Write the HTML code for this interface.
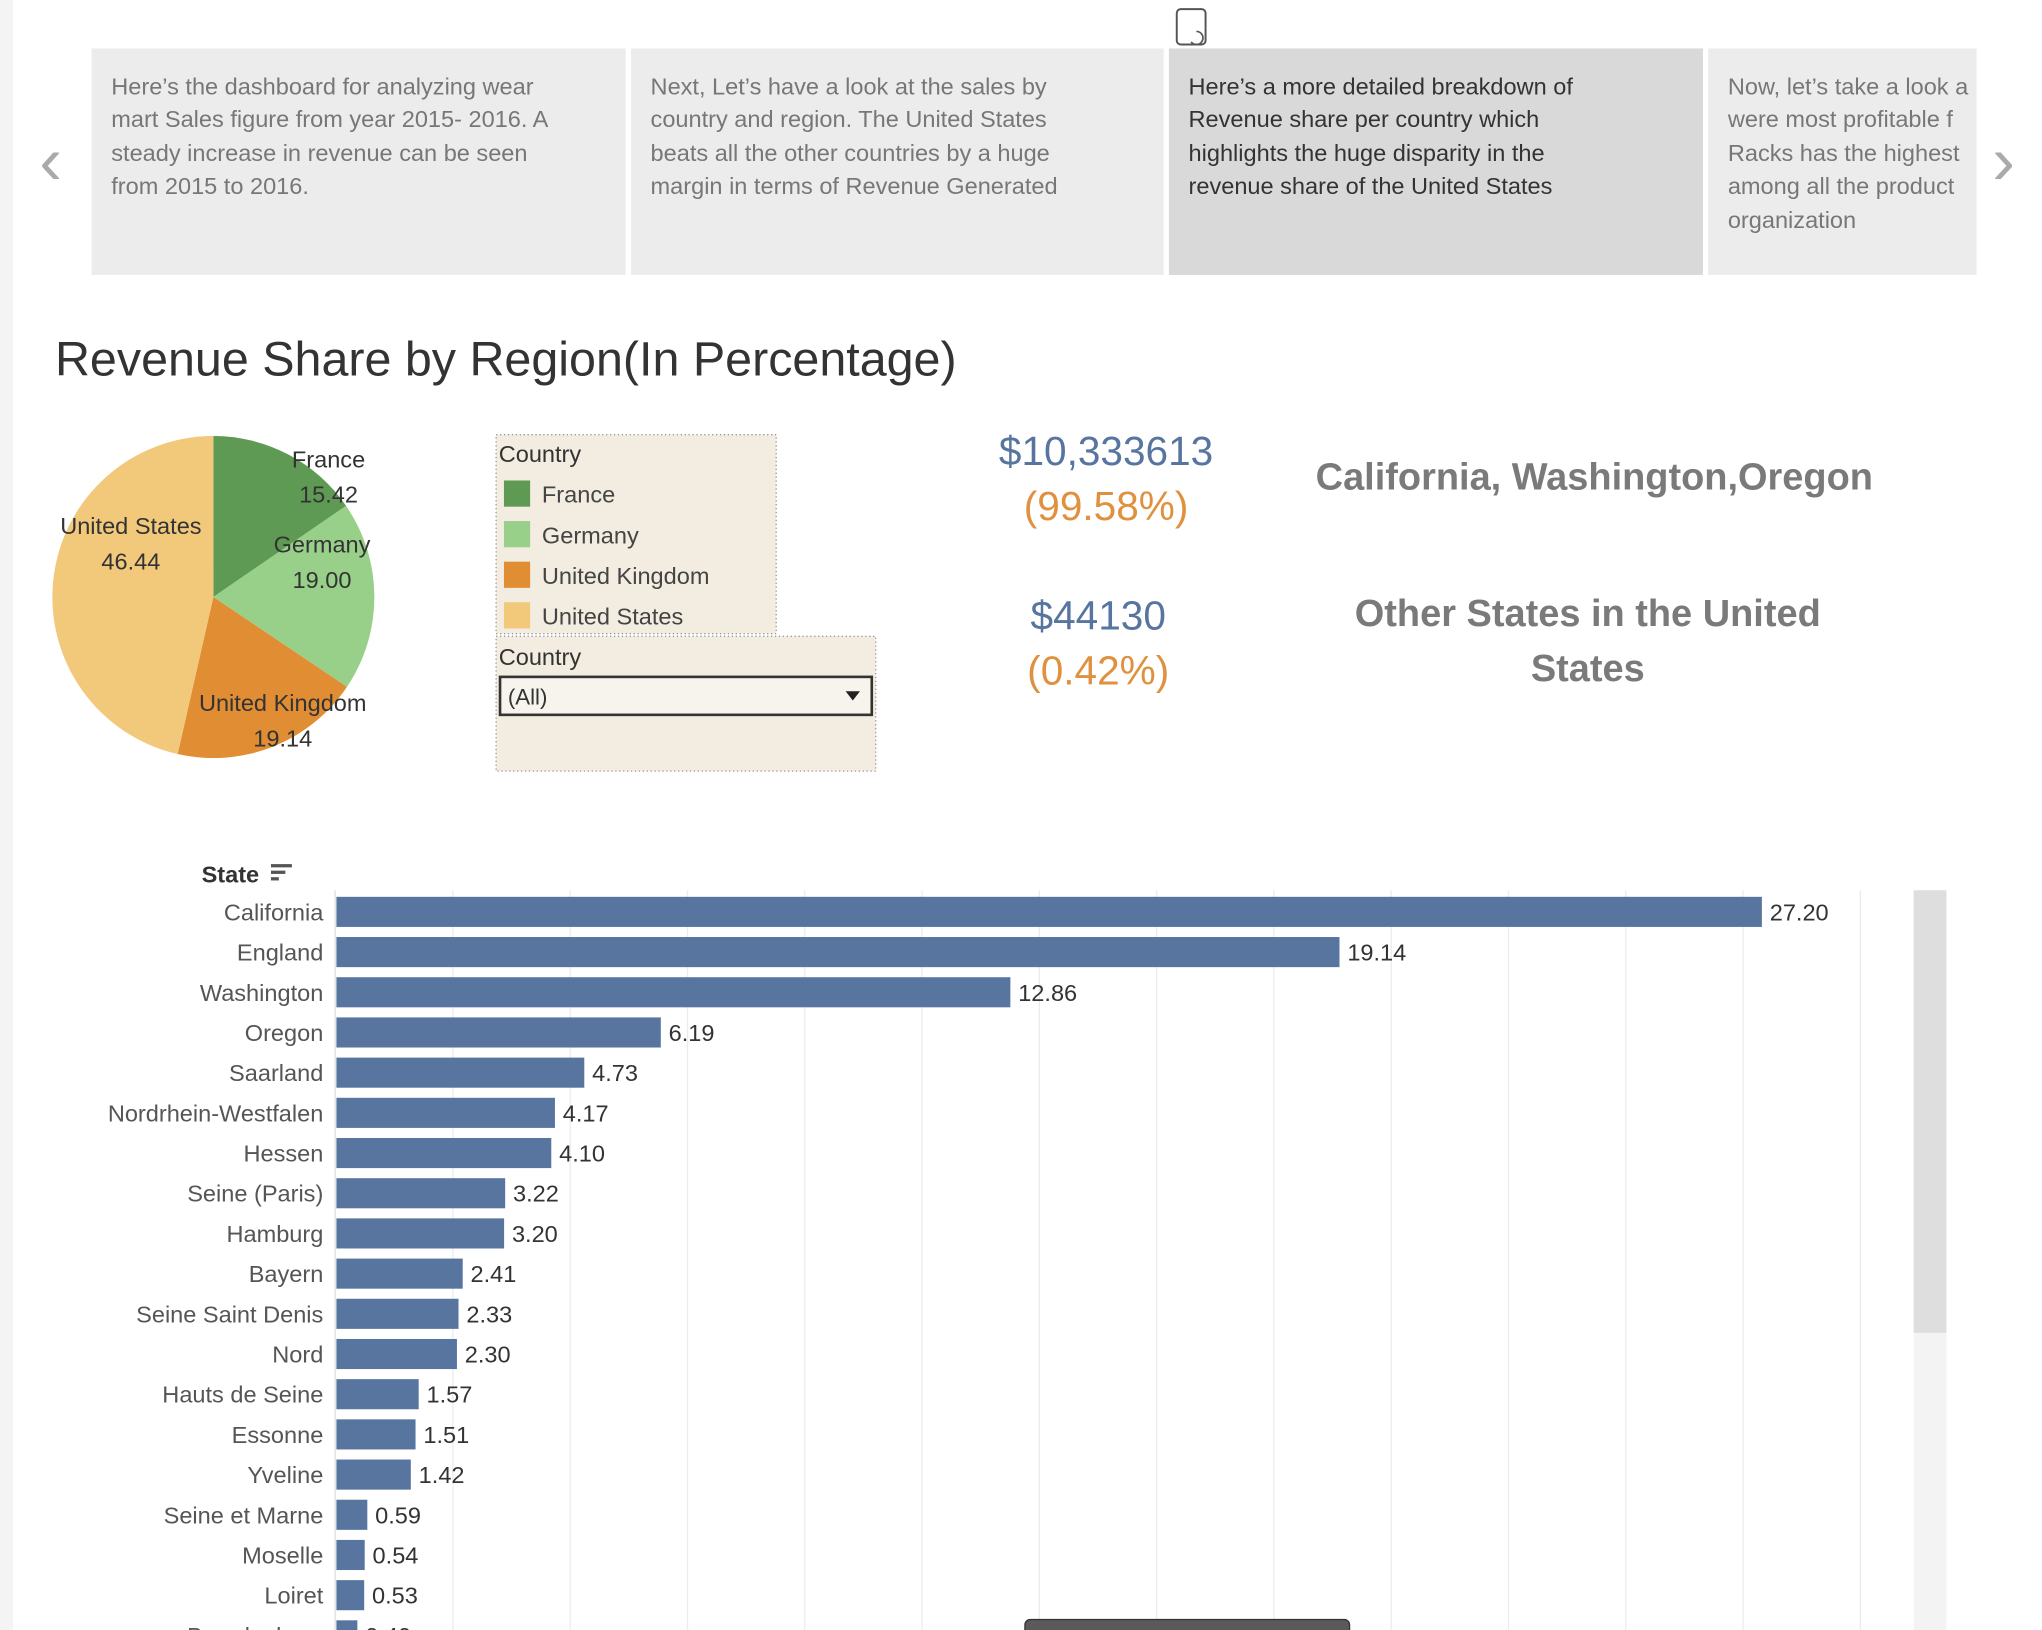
<!DOCTYPE html>
<html><head><meta charset="utf-8"><style>
html,body{margin:0;padding:0;background:#fff;overflow:hidden}
svg{display:block;font-family:"Liberation Sans",sans-serif}
</style></head><body>
<svg id="root" width="2042" height="1630" viewBox="0 0 1560 1245" preserveAspectRatio="none">
<defs><clipPath id="c4"><rect x="1305" y="37" width="205" height="173"/></clipPath></defs>
<rect x="0" y="0" width="10" height="1245" fill="#f4f4f4"/>
<g><rect x="899" y="7" width="22" height="27" rx="3" fill="#fff" stroke="#555" stroke-width="1.5"/><path d="M914 24 a5 5 0 1 1 -4 8" fill="none" stroke="#555" stroke-width="1.3"/></g>
<text x="30" y="140" font-size="52" fill="#aaa">‹</text>
<text x="1522" y="140" font-size="52" fill="#aaa">›</text>
<g font-size="18" fill="#777">
<g><rect x="70" y="37" width="408" height="173" fill="#ececec"/>
<text x="85" y="72">Here’s the dashboard for analyzing wear</text><text x="85" y="97">mart Sales figure from year 2015- 2016. A</text><text x="85" y="123">steady increase in revenue can be seen</text><text x="85" y="148">from  2015 to 2016.</text></g>
<g><rect x="482" y="37" width="407" height="173" fill="#ececec"/>
<text x="497" y="72">Next, Let’s have a look at the sales by</text><text x="497" y="97">country and region. The United States</text><text x="497" y="123">beats all the other countries by a huge</text><text x="497" y="148">margin in terms of Revenue Generated</text></g>
<g fill="#333"><rect x="893" y="37" width="408" height="173" fill="#d9d9d9"/>
<text x="908" y="72">Here’s a more detailed breakdown of</text><text x="908" y="97">Revenue share per country  which</text><text x="908" y="123">highlights the huge disparity in the</text><text x="908" y="148">revenue share of the United States</text></g>
<g><rect x="1305" y="37" width="205" height="173" fill="#ececec"/>
<g clip-path="url(#c4)"><text x="1320" y="72">Now, let’s take a look a</text><text x="1320" y="97">were most profitable f</text><text x="1320" y="123">Racks has the highest</text><text x="1320" y="148">among all the product</text><text x="1320" y="174">organization</text></g></g>
</g>
<text x="42" y="287" font-size="37" fill="#333">Revenue Share by Region(In Percentage)</text>
<g id="pie"></g>
<g>
<rect x="379" y="332" width="214" height="152" fill="#f3ece0" stroke="#999" stroke-dasharray="1 2"/>
<text x="381" y="353" font-size="18" fill="#333">Country</text><g id="legend"></g></g>
<g>
<rect x="379" y="486" width="290" height="103" fill="#f3ece0" stroke="#999" stroke-dasharray="1 2"/>
<text x="381" y="508" font-size="18" fill="#333">Country</text>
<g><rect x="382" y="517" width="284" height="29" fill="#f7f4ee" stroke="#333" stroke-width="2"/>
<text x="388" y="538" font-size="17" fill="#333">(All)</text><path d="M646 528 h11 l-5.5 7z" fill="#222"/></g></g>
<g font-size="31" text-anchor="middle">
<text x="845" y="355" fill="#5875a0">$10,333613</text>
<text x="845" y="397" fill="#e0913f">(99.58%)</text>
<text x="839" y="481" fill="#5875a0">$44130</text>
<text x="839" y="523" fill="#e0913f">(0.42%)</text>
<text x="1218" y="374" fill="#7a7a7a" font-weight="bold" font-size="29">California, Washington,Oregon</text>
<text x="1213" y="478" fill="#7a7a7a" font-weight="bold" font-size="29">Other States in the United</text>
<text x="1213" y="520" fill="#7a7a7a" font-weight="bold" font-size="29">States</text>
</g>
<text x="154" y="674" font-size="18" font-weight="bold" fill="#333">State</text>
<g fill="#555"><rect x="207" y="660" width="16" height="2.5"/><rect x="207" y="665" width="11" height="2.5"/><rect x="207" y="670" width="6" height="2.5"/></g>
<g id="grid"></g>
<g id="bars"></g>
<g><rect x="1462" y="680" width="25" height="565" fill="#f3f3f3"/><rect x="1462" y="680" width="25" height="338" fill="#dedede"/></g>
<g><rect x="783" y="1237" width="248" height="20" rx="4" fill="#5a5a5a" stroke="#333"/></g>
</svg>
<script>
const NS="http://www.w3.org/2000/svg";
const countries=["France","Germany","United Kingdom","United States"];
const shares=[15.42,19.00,19.14,46.44];
const pieColors=["#5f9a55","#98d08a","#e08d33","#f2c87b"];
const states=["California","England","Washington","Oregon","Saarland","Nordrhein-Westfalen","Hessen","Seine (Paris)","Hamburg","Bayern","Seine Saint Denis","Nord","Hauts de Seine","Essonne","Yveline","Seine et Marne","Moselle","Loiret","Brandenburg"];
const values=[27.20,19.14,12.86,6.19,4.73,4.17,4.10,3.22,3.20,2.41,2.33,2.30,1.57,1.51,1.42,0.59,0.54,0.53,0.40];
function mk(tag,attrs,parent){const e=document.createElementNS(NS,tag);for(const k in attrs)e.setAttribute(k,attrs[k]);parent.appendChild(e);return e;}
const pie=document.getElementById('pie');
const cx=163,cy=456,r=123;
const total=shares.reduce((a,b)=>a+b,0);
let acc=0;
const lblPos=[[251,351],[246,416],[216,537],[100,402]];
shares.forEach((v,i)=>{
  const a0=acc/total*2*Math.PI;acc+=v;const a1=acc/total*2*Math.PI;
  const x0=cx+r*Math.sin(a0),y0=cy-r*Math.cos(a0),x1=cx+r*Math.sin(a1),y1=cy-r*Math.cos(a1);
  const p=mk('path',{d:`M${cx} ${cy} L${x0} ${y0} A${r} ${r} 0 ${a1-a0>Math.PI?1:0} 1 ${x1} ${y1} Z`,fill:pieColors[i]},pie);
  
  
});
shares.forEach((v,i)=>{
  const t=mk('text',{x:lblPos[i][0],y:lblPos[i][1]+6,'font-size':18,fill:'#333','text-anchor':'middle'},pie);t.textContent=countries[i];
  
  
  const t2=mk('text',{x:lblPos[i][0],y:lblPos[i][1]+33,'font-size':18,fill:'#333','text-anchor':'middle'},pie);t2.textContent=v.toFixed(2);
  
  
});
const lg=document.getElementById('legend');
countries.forEach((c,i)=>{
  const y=367+i*31;
  const g=mk('g',{},lg);
  
  
  mk('rect',{x:385,y:y,width:20,height:20,fill:pieColors[i]},g);
  const t=mk('text',{x:414,y:y+17,'font-size':18,fill:'#444'},g);t.textContent=c;
});
const x0=257,pxPerUnit=(1346-257)/27.2,rowTop=685,rowH=30.7,barH=23;
const xs=v=>x0+v*pxPerUnit;
const grid=document.getElementById('grid');
for(let gx=346;gx<1440;gx+=89.6){mk('line',{x1:gx,y1:680,x2:gx,y2:1245,stroke:'#ececec','stroke-width':1},grid);}
mk('line',{x1:256,y1:680,x2:256,y2:1245,stroke:'#ddd'},grid);
const bars=document.getElementById('bars');
states.forEach((s,i)=>{
  const y=rowTop+i*rowH;
  const b=mk('rect',{x:x0,y:y,width:xs(values[i])-x0,height:barH,fill:'#5875a0'},bars);
  
  
  const l=mk('text',{x:247,y:y+18,'font-size':18,fill:'#555','text-anchor':'end'},bars);l.textContent=s;
  
  
  const v=mk('text',{x:xs(values[i])+6,y:y+18,'font-size':18,fill:'#333'},bars);v.textContent=values[i].toFixed(2);
  
  
});
</script>
</body></html>
